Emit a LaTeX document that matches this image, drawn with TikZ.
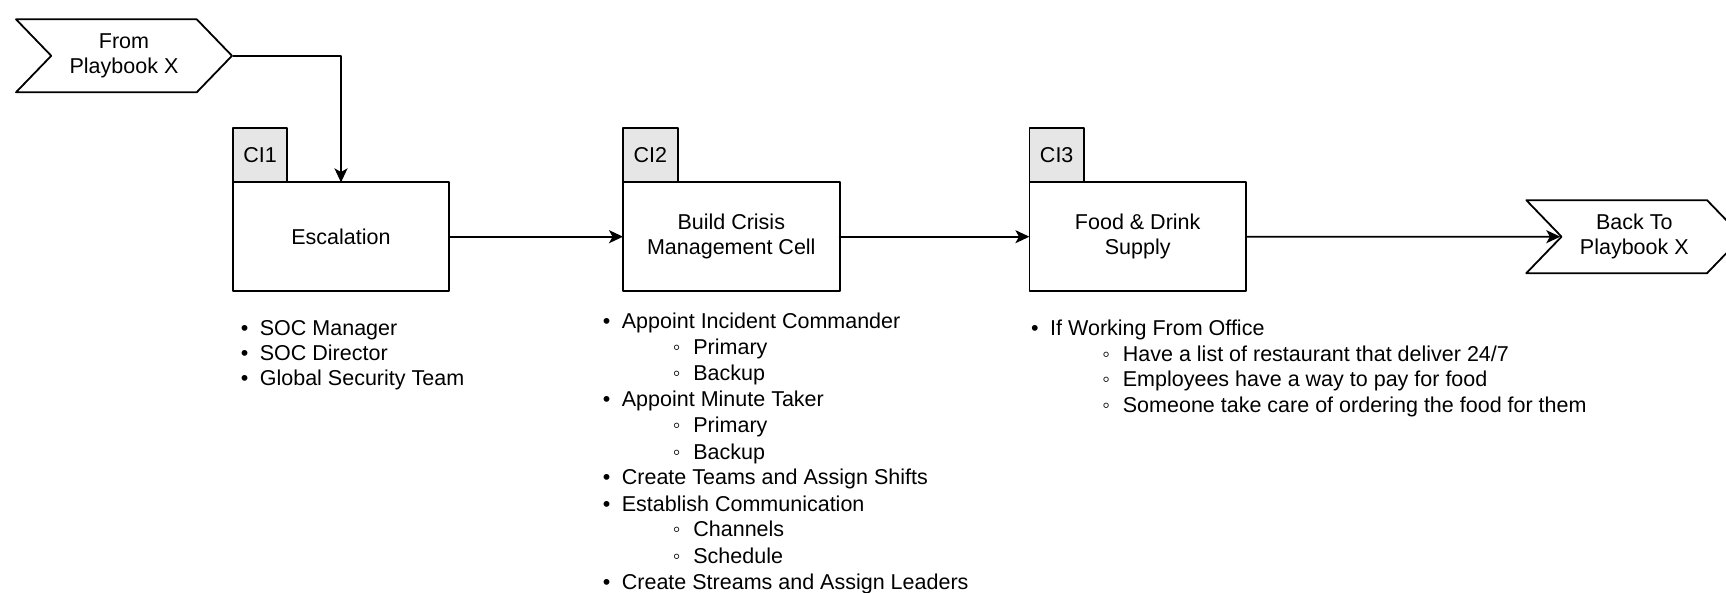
\documentclass[tikz,border=0pt]{standalone}
\usepackage{fontspec}
\setmainfont{Liberation Sans}
\usetikzlibrary{arrows.meta,shapes.symbols}
\definecolor{tabgray}{HTML}{E6E6E6}
\newcommand{\bul}{\llap{\makebox[0pt][c]{\textbullet}\hspace{7.6pt}}}
\newcommand{\subbul}{\llap{\makebox[0pt][c]{◦}\hspace{8.4pt}}}

\begin{document}
\begin{tikzpicture}[line cap=round,line join=round,line width=0.9pt,>={Stealth[length=7pt,width=6.5pt,inset=1.8pt]},x=0.5pt,y=-0.5pt,
	every node/.style={font=\fontsize{10.75pt}{12.5pt}\selectfont},
	stepbox/.style={draw,minimum width=108.3pt,minimum height=54.3pt,align=center,inner sep=0pt,outer sep=0pt},
	tabbox/.style={draw,fill=tabgray,minimum width=27.3pt,minimum height=27.1pt,inner sep=0pt,outer sep=0pt,anchor=south west},
	chevron/.style={draw,shape=signal,signal from=west,signal to=east,signal pointer angle=92,minimum width=108pt,minimum height=36.5pt,inner sep=0pt,align=center},
	item/.style={anchor=base west,inner sep=0pt}]
	\useasboundingbox (0,0) rectangle (1726,593);
	\clip (0,0) rectangle (1726,593);
	% playbook in and out
	\node[chevron] (from) at (124,55.8) {From\\Playbook X};
	\node[chevron] (back) at (1634.3,236.7) {Back To\\Playbook X};
	% steps
	\node[stepbox] (esc) at (341,236.7) {Escalation};
	\node[stepbox] (cms) at (731.3,236.7) {Build Crisis\\Management Cell};
	\node[stepbox] (food) at (1137.7,236.7) {Food \& Drink\\Supply};
	\node[tabbox] (ci1) at (esc.north west) {CI1};
	\node[tabbox] (ci2) at (cms.north west) {CI2};
	\node[tabbox] (ci3) at (food.north west) {CI3};
	\draw[->] (from.east) -| (esc.north);
	\draw[->] (esc) -- (cms);
	\draw[->] (cms) -- (food);
	\draw[->] (food) -- (back);
	% notes under CI1
	\node[item] (esc1) at (259,335.3) {\bul SOC Manager};
	\node[item] (esc2) at (259,360.3) {\bul SOC Director};
	\node[item] (esc3) at (259,385.3) {\bul Global Security Team};
	% notes under CI2
	\node[item] (cms1) at (621,329) {\bul Appoint Incident Commander};
	\node[item] (cms2) at (692.5,355) {\subbul Primary};
	\node[item] (cms3) at (692.5,381) {\subbul Backup};
	\node[item] (cms4) at (621,407) {\bul Appoint Minute Taker};
	\node[item] (cms5) at (692.5,433) {\subbul Primary};
	\node[item] (cms6) at (692.5,459) {\subbul Backup};
	\node[item] (cms7) at (621,485) {\bul Create Teams and Assign Shifts};
	\node[item] (cms8) at (621,511) {\bul Establish Communication};
	\node[item] (cms9) at (692.5,537) {\subbul Channels};
	\node[item] (cms10) at (692.5,563) {\subbul Schedule};
	\node[item] (cms11) at (621,589) {\bul Create Streams and Assign Leaders};
	% notes under CI3
	\node[item] (food1) at (1049.3,336) {\bul If Working From Office};
	\node[item] (food2) at (1122,361.5) {\subbul Have a list of restaurant that deliver 24/7};
	\node[item] (food3) at (1122,387) {\subbul Employees have a way to pay for food};
	\node[item] (food4) at (1122,412.5) {\subbul Someone take care of ordering the food for them};
\end{tikzpicture}
\end{document}
